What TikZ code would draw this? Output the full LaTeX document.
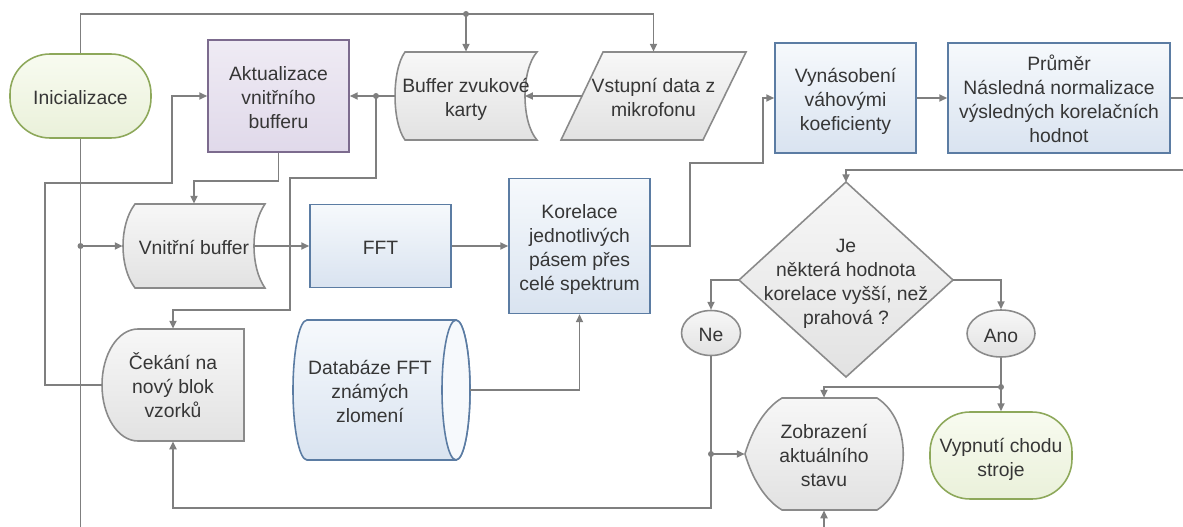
\documentclass[tikz,border=0pt]{standalone}
\usepackage{fontspec}
\setmainfont{Liberation Sans}
\usetikzlibrary{arrows.meta,shapes.geometric,calc}

\definecolor{wire}{HTML}{7F7F7F}
\definecolor{edgegray}{HTML}{8A8A8A}
\definecolor{txt}{HTML}{363636}
\definecolor{bluebd}{HTML}{5B7CA3}
\definecolor{bluetop}{HTML}{F6F9FC}
\definecolor{bluebot}{HTML}{D9E3F0}
\definecolor{graytop}{HTML}{F7F7F7}
\definecolor{graybot}{HTML}{E2E2E2}
\definecolor{purpbd}{HTML}{7C6B8E}
\definecolor{purptop}{HTML}{EFEBF4}
\definecolor{purpbot}{HTML}{E0D9EA}
\definecolor{greenbd}{HTML}{8DA85A}
\definecolor{greentop}{HTML}{F8FBF0}
\definecolor{greenbot}{HTML}{EAF1DA}

% centred block of lines, set slightly low inside its shape
\newcommand\boxtext[1]{\raisebox{-2.2pt}[\height][\depth]{\begin{tabular}{@{}c@{}}#1\end{tabular}}}

\begin{document}
\begin{tikzpicture}[x=0.02cm,y=-0.02cm,
  every node/.style={font=\fontsize{11}{13.6}\selectfont, text=txt, inner sep=0pt},
  wireline/.style={draw=wire, line width=0.9pt},
  arr/.style={wireline, -{Triangle[length=4.5pt,width=4pt]}},
  grayshape/.style={draw=edgegray, line width=0.9pt, top color=graytop, bottom color=graybot},
  blueshape/.style={draw=bluebd, line width=0.9pt, top color=bluetop, bottom color=bluebot},
  procblue/.style={rectangle, blueshape},
  procpurple/.style={rectangle, draw=purpbd, line width=0.9pt, top color=purptop, bottom color=purpbot},
  termbox/.style={rectangle, rounded corners=0.8cm, draw=greenbd, line width=0.9pt, top color=greentop, bottom color=greenbot},
  grayellipse/.style={ellipse, grayshape},
  plain/.style={rectangle, draw=none}
]
\useasboundingbox (0,0) rectangle (1183,527);

% ---------- outlines of the special shapes ----------
% stored data: sound card buffer
\path[grayshape] (405,52) -- (537,52) .. controls (521,70) and (521,122) .. (537,140)
  -- (405,140) .. controls (391.7,122) and (391.7,70) .. (405,52) -- cycle;
% input data parallelogram
\path[grayshape] (603,52) -- (746,52) -- (703,140) -- (561,140) -- cycle;
% stored data: internal buffer
\path[grayshape] (135,204) -- (265,204) .. controls (250.3,225) and (250.3,267) .. (265,288)
  -- (135,288) .. controls (119,267) and (119,225) .. (135,204) -- cycle;
% delay: waiting for a new block
\path[grayshape] (138,329) -- (244,329) -- (244,441) -- (138,441)
  .. controls (118,441) and (102,416) .. (102,385)
  .. controls (102,354) and (118,329) .. (138,329) -- cycle;
% database cylinder
\path[blueshape] (307,320) -- (456,320) .. controls (463.7,320) and (470,351.3) .. (470,390)
  .. controls (470,428.7) and (463.7,460) .. (456,460) -- (307,460)
  .. controls (299.3,460) and (293,428.7) .. (293,390)
  .. controls (293,351.3) and (299.3,320) .. (307,320) -- cycle;
\draw[draw=bluebd, line width=0.9pt, fill=bluetop] (456,390) ellipse [x radius=0.28cm, y radius=1.4cm];
% decision diamond
\path[grayshape] (846,182) -- (953,280) -- (846,377) -- (739,280) -- cycle;
% display shape
\path[grayshape] (782,398) -- (877,398) .. controls (912,420) and (912,488) .. (877,510)
  -- (782,510) .. controls (765,500) and (752,478) .. (745,454)
  .. controls (752,430) and (765,408) .. (782,398) -- cycle;

% ---------- nodes ----------
\node[termbox, minimum width=2.82cm, minimum height=1.68cm] (init) at (80.5,96) {\boxtext{Inicializace}};
\node[procpurple, minimum width=2.82cm, minimum height=2.24cm] (akt) at (278.5,96) {\boxtext{Aktualizace\\vnitřního\\bufferu}};
\node[plain, minimum width=2.84cm, minimum height=1.76cm] (buf) at (466,96) {\boxtext{Buffer zvukové\\karty}};
\node[plain, minimum width=3.7cm, minimum height=1.76cm] (vst) at (653.5,96) {\boxtext{Vstupní data z\\mikrofonu}};
\node[plain, minimum width=2.84cm, minimum height=1.68cm] (vnb) at (194,246) {\boxtext{Vnitřní buffer}};
\node[procblue, minimum width=2.82cm, minimum height=1.66cm] (fft) at (380.5,246) {\boxtext{FFT}};
\node[procblue, minimum width=2.82cm, minimum height=2.7cm] (kor) at (579.5,246) {\boxtext{Korelace\\jednotlivých\\pásem přes\\celé spektrum}};
\node[procblue, minimum width=2.82cm, minimum height=2.2cm] (vyn) at (845.5,98) {\boxtext{Vynásobení\\váhovými\\koeficienty}};
\node[procblue, minimum width=4.44cm, minimum height=2.2cm] (pru) at (1059,98) {\boxtext{Průměr\\Následná normalizace\\výsledných korelačních\\hodnot}};
\node[plain, minimum width=2.84cm, minimum height=2.24cm] (cek) at (173,385) {\boxtext{Čekání na\\nový blok\\vzorků}};
\node[plain, minimum width=2.9cm, minimum height=2.8cm] (db) at (370,390) {\boxtext{Databáze FFT\\známých\\zlomení}};
\node[plain, minimum width=4.28cm, minimum height=3.9cm] (dia) at (846,280) {\boxtext{Je\\některá hodnota\\korelace vyšší, než\\prahová ?}};
\node[grayellipse, minimum width=1.18cm, minimum height=0.9cm] (ne) at (711,333) {\boxtext{Ne}};
\node[grayellipse, minimum width=1.36cm, minimum height=0.94cm] (ano) at (1001,333.5) {\boxtext{Ano}};
\node[termbox, minimum width=2.84cm, minimum height=1.74cm] (vyp) at (1001,455.5) {\boxtext{Vypnutí chodu\\stroje}};
\node[plain, minimum width=3.16cm, minimum height=2.24cm] (zob) at (824,454) {\boxtext{Zobrazení\\aktuálního\\stavu}};

% anchors on curved or slanted edges
\coordinate (buf-e) at (525,96);
\coordinate (vst-w) at (582,96);
\coordinate (vnb-e) at (254,246);
\coordinate (db-e) at (470,390);

% free ends at the picture border
\coordinate (topbus) at (0,14);
\coordinate (bottomL) at (init.south |- 0,527);
\coordinate (bottomZ) at (zob.south |- 0,527);
\coordinate (rightOut) at (1183,98);
\coordinate (rightIn) at (1183,170);

% junctions
\coordinate (j1) at (buf.north |- topbus);
\coordinate (j2) at (376,96);
\coordinate (j3) at (init.south |- vnb.west);
\coordinate (j4) at (1001,387);
\coordinate (j5) at (ne.south |- zob.west);

% ---------- connectors ----------
\draw[arr] (init.north) |- (vst.north |- topbus) -- (vst.north);
\draw[arr] (j1) -- (buf.north);
\draw[wireline] (init.south) -- (bottomL);
\draw[arr] (j3) -- (vnb.west);
\draw[arr] (vst-w) -- (buf-e);
\draw[arr] (buf.west) -- (akt.east);
\draw[arr] (j2) -- (376,178) -| (290,310) -| (cek.north);
\draw[arr] (akt.south) -- (akt.south |- 0,181) -| (vnb.north);
\draw[arr] (cek.west) -| (45,183) -| (172,96) -- (akt.west);
\draw[arr] (vnb-e) -- (fft.west);
\draw[arr] (fft.east) -- (kor.west);
\draw[arr] (kor.east) -| (690,163) -| (763,98) -- (vyn.west);
\draw[arr] (vyn.east) -- (pru.west);
\draw[wireline] (pru.east) -- (rightOut);
\draw[arr] (rightIn) -| (dia.north);
\draw[arr] (dia.west) -| (ne.north);
\draw[arr] (dia.east) -| (ano.north);
\draw[wireline] (ano.south) -- (j4);
\draw[arr] (j4) -- (vyp.north);
\draw[arr] (j4) -| (zob.north);
\draw[wireline] (ne.south) -- (j5);
\draw[arr] (j5) -- (zob.west);
\draw[arr] (j5) -- (711,508) -| (cek.south);
\draw[arr] (bottomZ) -- (zob.south);
\draw[arr] (db-e) -| (kor.south);

\foreach \j in {j1,j2,j3,j4,j5} \fill[wire] (\j) circle[radius=1.7pt];
\end{tikzpicture}
\end{document}
